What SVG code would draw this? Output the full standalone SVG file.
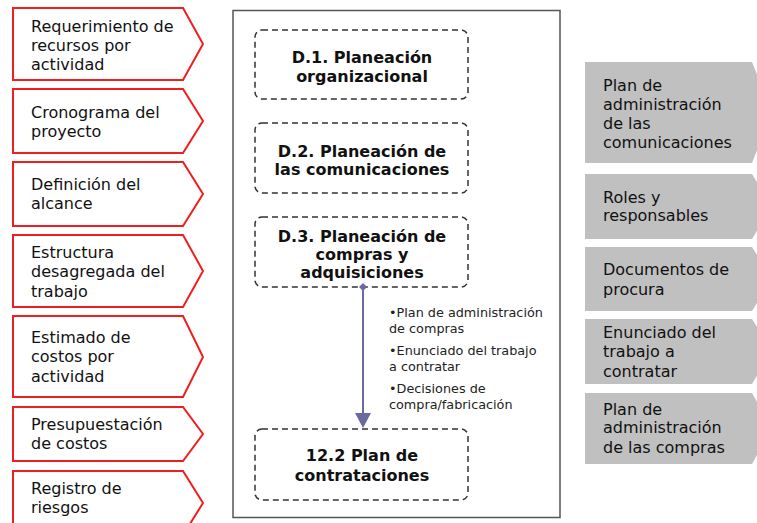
<svg xmlns="http://www.w3.org/2000/svg" width="757" height="523" viewBox="0 0 757 523">
<style>
.in{fill:#fff;stroke:#f01e1e;stroke-width:2}
.out{fill:#c0c0c0;stroke:none}
.t{font-family:"DejaVu Sans",Verdana,sans-serif;font-size:16px;fill:#111}
.b{font-family:"DejaVu Sans",Verdana,sans-serif;font-size:16px;font-weight:bold;fill:#111;text-anchor:middle}
.s{font-family:"DejaVu Sans",Verdana,sans-serif;font-size:12.8px;fill:#222}
.d{fill:#fff;stroke:#333;stroke-width:1.5;stroke-dasharray:6 4}
</style>
<rect width="757" height="523" fill="#fff"/>
<g id="in1"><path class="in" d="M13,8H183L203,44L183,80H13Z"/><text class="t" x="31" y="32">Requerimiento de</text><text class="t" x="31" y="51">recursos por</text><text class="t" x="31" y="70">actividad</text></g>
<g id="in2"><path class="in" d="M13,89H183L203,121L183,153H13Z"/><text class="t" x="31" y="118">Cronograma del</text><text class="t" x="31" y="137">proyecto</text></g>
<g id="in3"><path class="in" d="M13,162H183L203,194L183,226H13Z"/><text class="t" x="31" y="190">Definición del</text><text class="t" x="31" y="209">alcance</text></g>
<g id="in4"><path class="in" d="M13,235H183L203,271L183,307H13Z"/><text class="t" x="31" y="258">Estructura</text><text class="t" x="31" y="277">desagregada del</text><text class="t" x="31" y="297">trabajo</text></g>
<g id="in5"><path class="in" d="M13,316H183L203,357L183,397H13Z"/><text class="t" x="31" y="343">Estimado de</text><text class="t" x="31" y="362">costos por</text><text class="t" x="31" y="382">actividad</text></g>
<g id="in6"><path class="in" d="M13,407H183L203,434L183,461H13Z"/><text class="t" x="31" y="430">Presupuestación</text><text class="t" x="31" y="449">de costos</text></g>
<g id="in7"><path class="in" d="M13,471H183L203,503L183,535H13Z"/><text class="t" x="31" y="494">Registro de</text><text class="t" x="31" y="513">riesgos</text></g>

<g id="frame"><rect x="233" y="10.5" width="327" height="507" fill="#fff" stroke="#555" stroke-width="1.5"/></g>

<g id="d1"><rect class="d" x="255" y="30" width="213" height="69" rx="7"/><text class="b" x="362" y="63">D.1. Planeación</text><text class="b" x="362" y="82">organizacional</text></g>
<g id="d2"><rect class="d" x="255" y="123" width="213" height="70" rx="7"/><text class="b" x="362" y="157">D.2. Planeación de</text><text class="b" x="362" y="175">las comunicaciones</text></g>
<g id="d3"><rect class="d" x="255" y="217" width="213" height="70" rx="7"/><text class="b" x="362" y="242">D.3. Planeación de</text><text class="b" x="362" y="260">compras y</text><text class="b" x="362" y="278">adquisiciones</text></g>
<g id="p122"><rect class="d" x="255" y="429" width="213" height="71" rx="7"/><text class="b" x="362" y="461">12.2 Plan de</text><text class="b" x="362" y="481">contrataciones</text></g>

<g id="connectors">
<line x1="363" y1="287" x2="363" y2="414" stroke="#6a6a9e" stroke-width="2"/>
<path d="M363,283L367,287L363,291L359,287Z" fill="#6a6a9e"/>
<path d="M355,413H371L363,428Z" fill="#6a6a9e"/>
</g>
<g id="label"><text class="s" x="389" y="317">•Plan de administración</text><text class="s" x="389" y="333">de compras</text><text class="s" x="389" y="355">•Enunciado del trabajo</text><text class="s" x="389" y="371">a contratar</text><text class="s" x="389" y="393">•Decisiones de</text><text class="s" x="389" y="409">compra/fabricación</text></g>

<g id="out1"><path class="out" d="M585,62H752L772,112L752,163H585Z"/><text class="t" x="603" y="91">Plan de</text><text class="t" x="603" y="110">administración</text><text class="t" x="603" y="129">de las</text><text class="t" x="603" y="148">comunicaciones</text></g>
<g id="out2"><path class="out" d="M585,174H752L772,206L752,239H585Z"/><text class="t" x="603" y="203">Roles y</text><text class="t" x="603" y="221">responsables</text></g>
<g id="out3"><path class="out" d="M585,247H752L772,279L752,311H585Z"/><text class="t" x="603" y="275">Documentos de</text><text class="t" x="603" y="295">procura</text></g>
<g id="out4"><path class="out" d="M585,319H752L772,351L752,384H585Z"/><text class="t" x="603" y="338">Enunciado del</text><text class="t" x="603" y="357">trabajo a</text><text class="t" x="603" y="377">contratar</text></g>
<g id="out5"><path class="out" d="M585,393H752L772,428L752,464H585Z"/><text class="t" x="603" y="415">Plan de</text><text class="t" x="603" y="433">administración</text><text class="t" x="603" y="453">de las compras</text></g>
</svg>
